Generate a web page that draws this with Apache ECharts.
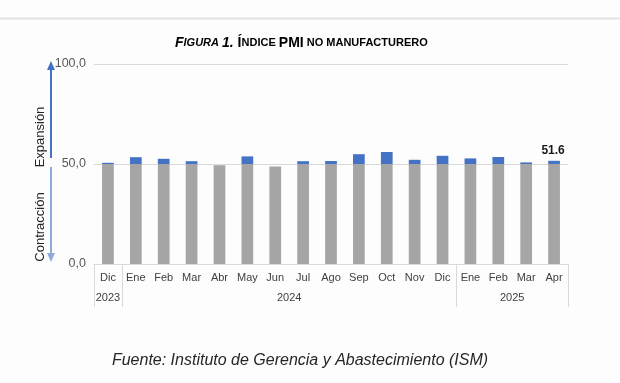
<!DOCTYPE html>
<html><head><meta charset="utf-8">
<script src="https://cdn.jsdelivr.net/npm/echarts@6/dist/echarts.min.js"></script>
<style>html,body{margin:0;padding:0;background:#fdfdfd}#c{width:620px;height:383px}</style>
</head><body><div id="c"></div>
<script>
var months = ['Dic','Ene','Feb','Mar','Abr','May','Jun','Jul','Ago','Sep','Oct','Nov','Dic','Ene','Feb','Mar','Apr'];
var pmiValues = [50.6,53.4,52.6,51.4,49.4,53.8,48.8,51.4,51.5,54.9,56.0,52.1,54.1,52.8,53.5,50.8,51.6];
var threshold = 50;
var yearLabels = ['2023','2024','2025'];
var yearLabelPos = [0.5, 7, 15];
var yearBoundaries = [0, 1, 13, 17];

var grayPart = pmiValues.map(function(v){return Math.min(v, threshold);});
var bluePart = pmiValues.map(function(v){return +(Math.max(v - threshold, 0)).toFixed(1);});
var lastIdx = pmiValues.length - 1;

var chart = echarts.init(document.getElementById('c'), null, {renderer:'canvas'});
var FONT = 'Liberation Sans, Arial, sans-serif';
chart.setOption({
  backgroundColor:'#fdfdfd',
  animation:false,
  title:{
    text:'{a|F}{b|IGURA }{a|1.}{c| Í}{d|NDICE }{c|PMI}{d| NO MANUFACTURERO}',
    left:170, top:31,
    textStyle:{rich:{
      a:{fontFamily:FONT,fontSize:14,fontWeight:'bold',fontStyle:'italic',color:'#000'},
      b:{fontFamily:FONT,fontSize:11,fontWeight:'bold',fontStyle:'italic',color:'#000'},
      c:{fontFamily:FONT,fontSize:14,fontWeight:'bold',color:'#000'},
      d:{fontFamily:FONT,fontSize:11,fontWeight:'bold',color:'#000'}
    }}
  },
  grid:{left:94,right:52,top:64,bottom:119,containLabel:false},
  xAxis:[{
    type:'category', data:months, gridIndex:0, position:'bottom',
    axisLine:{lineStyle:{color:'#d9d9d9',width:1}},
    axisTick:{show:false},
    axisLabel:{color:'#404040',fontFamily:FONT,fontSize:11,margin:8,interval:0}
  },{
    type:'value', min:0, max:months.length, gridIndex:0, position:'bottom',
    axisLine:{show:false},
    splitLine:{show:false},
    axisTick:{show:true,customValues:yearBoundaries,length:43,lineStyle:{color:'#d9d9d9'}},
    axisLabel:{show:true,customValues:yearLabelPos,margin:28,color:'#404040',fontFamily:FONT,fontSize:11,
      formatter:function(v){var i=yearLabelPos.indexOf(v);return i>=0?yearLabels[i]:'';}}
  }],
  yAxis:{
    type:'value', min:0, max:100, interval:50,
    axisLine:{show:false}, axisTick:{show:false},
    splitLine:{lineStyle:{color:'#d9d9d9',width:1}},
    axisLabel:{color:'#595959',fontFamily:FONT,fontSize:12.5,margin:8,
      formatter:function(v){return v.toFixed(1).replace('.',',');}}
  },
  series:[{
    type:'bar', stack:'pmi', data:grayPart, barWidth:'42%', xAxisIndex:0,
    itemStyle:{color:'#a5a5a5'}
  },{
    type:'bar', stack:'pmi', xAxisIndex:0,
    data:bluePart.map(function(v,i){
      if(i===lastIdx){return {value:v,label:{show:true,position:'top',distance:4,
        formatter:function(){return pmiValues[lastIdx].toFixed(1);},
        fontFamily:FONT,fontSize:12,fontWeight:'bold',color:'#1a1a1a',offset:[-1,0]}};}
      return v;
    }),
    barWidth:'42%', itemStyle:{color:'#4472c4'}
  }],
  graphic:[
    {type:'line',shape:{x1:0,y1:18.5,x2:620,y2:18.5},style:{stroke:'#e3e3e3',lineWidth:2}},
    {type:'line',shape:{x1:51,y1:158,x2:51,y2:68},style:{stroke:'#4472c4',lineWidth:2}},
    {type:'polygon',shape:{points:[[51,61],[47,70],[55,70]]},style:{fill:'#4472c4'}},
    {type:'line',shape:{x1:51,y1:167,x2:51,y2:255},style:{stroke:'#8faadc',lineWidth:2}},
    {type:'polygon',shape:{points:[[51,262],[47,253],[55,253]]},style:{fill:'#8faadc'}},
    {type:'text',x:40,y:137,rotation:Math.PI/2,style:{text:'Expansión',font:'13px '+FONT,fill:'#262626',align:'center',verticalAlign:'middle'}},
    {type:'text',x:40,y:227,rotation:Math.PI/2,style:{text:'Contracción',font:'13px '+FONT,fill:'#262626',align:'center',verticalAlign:'middle'}},
    {type:'text',x:300,y:361,style:{text:'Fuente: Instituto de Gerencia y Abastecimiento (ISM)',font:'italic 16px '+FONT,fill:'#262626',align:'center',verticalAlign:'middle'}}
  ]
});
</script></body></html>
